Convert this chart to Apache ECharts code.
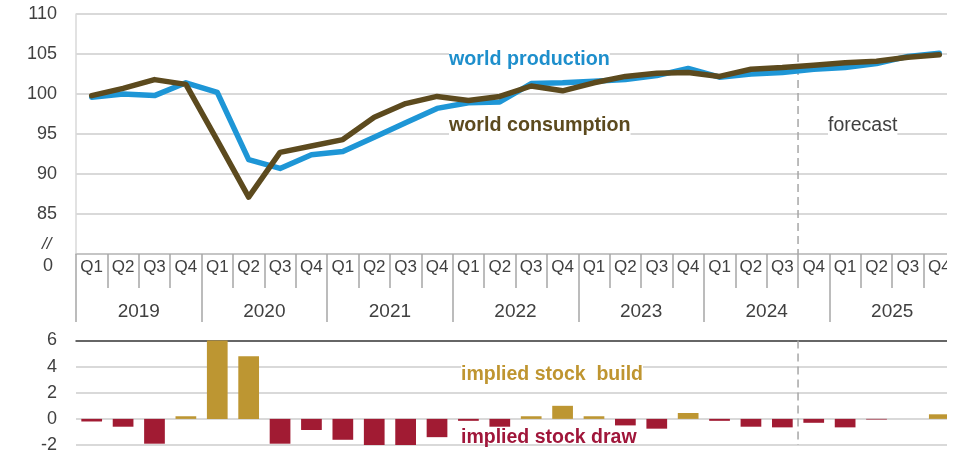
<!DOCTYPE html>
<html><head><meta charset="utf-8">
<script src="https://cdn.jsdelivr.net/npm/echarts@6/dist/echarts.min.js"></script>
<style>html,body{margin:0;padding:0;background:#fff}#c{width:966px;height:454px}</style>
</head><body><div id="c"></div>
<script>
const quarters = ['Q1','Q2','Q3','Q4','Q1','Q2','Q3','Q4','Q1','Q2','Q3','Q4','Q1','Q2','Q3','Q4','Q1','Q2','Q3','Q4','Q1','Q2','Q3','Q4','Q1','Q2','Q3','Q4'];
const years = ['2019','2020','2021','2022','2023','2024','2025'];
const production = [99.6,100.0,99.8,101.4,100.2,91.8,90.7,92.4,92.8,94.6,96.4,98.2,98.9,99.0,101.3,101.4,101.6,101.8,102.3,103.2,102.1,102.5,102.7,103.1,103.3,103.8,104.7,105.1];
const consumption = [99.8,100.7,101.8,101.2,94.2,87.1,92.7,93.5,94.3,97.1,98.8,99.7,99.2,99.7,101.0,100.4,101.4,102.2,102.6,102.7,102.2,103.1,103.3,103.6,103.9,104.1,104.6,104.9];
const stockChange = [-0.2,-0.6,-1.9,0.2,6.0,4.8,-1.9,-0.85,-1.6,-2.1,-2.0,-1.4,-0.15,-0.6,0.2,1.0,0.2,-0.5,-0.75,0.45,-0.15,-0.6,-0.65,-0.3,-0.65,-0.05,0,0.35];
const forecastStart = 23;
const topRange = [80, 110];
const bottomRange = [-2, 6];

const FONT = "'Liberation Sans', Arial, sans-serif";
const TXT = '#404040';
const GRID = '#D9D9D9';
const TICK = '#A6A6A6';

const chart = echarts.init(document.getElementById('c'), null, {renderer: 'canvas'});
chart.setOption({
  animation: false,
  backgroundColor: '#fff',
  textStyle: {fontFamily: FONT},
  grid: [
    {left: 76, top: 14, width: 879, height: 240},
    {left: 76, top: 340.5, width: 879, height: 105}
  ],
  xAxis: [
    {gridIndex: 0, type: 'category', data: quarters, position: 'bottom',
     axisLine: {show: true, onZero: false, lineStyle: {color: '#BFBFBF', width: 1.5}},
     axisTick: {show: true, interval: 0, length: 34, lineStyle: {color: TICK, width: 1.5}},
     axisLabel: {interval: 0, margin: 5, fontSize: 17, color: TXT, fontFamily: FONT}},
    {gridIndex: 0, type: 'category', data: years, position: 'bottom',
     axisLine: {show: false, onZero: false},
     axisTick: {show: true, interval: 0, length: 68, lineStyle: {color: TICK, width: 1.5}},
     axisLabel: {interval: 0, margin: 48, fontSize: 19, color: TXT, fontFamily: FONT}},
    {gridIndex: 0, type: 'value', min: 0, max: quarters.length, show: false},
    {gridIndex: 1, type: 'value', min: 0, max: quarters.length, show: false},
    {gridIndex: 1, type: 'category', data: quarters,
     axisLine: {show: true, onZero: true, lineStyle: {color: '#404040', width: 1.5}},
     axisTick: {show: false}, axisLabel: {show: false}}
  ],
  yAxis: [
    {gridIndex: 0, type: 'value', min: topRange[0], max: topRange[1], interval: 5,
     axisLine: {show: true, lineStyle: {color: GRID, width: 1.5}},
     axisTick: {show: false},
     axisLabel: {margin: 19, fontSize: 18, color: TXT, fontFamily: FONT,
       formatter: v => v === topRange[0] ? '' : String(v)},
     splitLine: {show: true, lineStyle: {color: GRID, width: 2}}},
    {gridIndex: 1, type: 'value', min: bottomRange[0], max: bottomRange[1], interval: 2,
     axisLine: {show: false}, axisTick: {show: false},
     axisLabel: {margin: 19, fontSize: 18, color: TXT, fontFamily: FONT},
     splitLine: {show: true, lineStyle: {color: GRID, width: 2}}}
  ],
  series: [
    {type: 'line', xAxisIndex: 2, yAxisIndex: 0, data: [[forecastStart, 105], [forecastStart, topRange[0]]],
     symbol: 'none', silent: true, lineStyle: {color: TICK, width: 1.5, type: [8, 5]}, z: 1},
    {type: 'line', xAxisIndex: 3, yAxisIndex: 1, data: [[forecastStart, bottomRange[1]], [forecastStart, bottomRange[0]]],
     symbol: 'none', silent: true, lineStyle: {color: TICK, width: 1.5, type: [8, 5]}, z: 1},
    {name: 'world production', type: 'line', xAxisIndex: 0, yAxisIndex: 0, data: production,
     symbol: 'none', lineStyle: {color: '#1E96D6', width: 5.5, cap: 'round', join: 'round'}, z: 3},
    {name: 'world consumption', type: 'line', xAxisIndex: 0, yAxisIndex: 0, data: consumption,
     symbol: 'none', lineStyle: {color: '#5C4A1E', width: 5.5, cap: 'round', join: 'round'}, z: 4},
    {name: 'stock change', type: 'bar', xAxisIndex: 4, yAxisIndex: 1, data: stockChange,
     barWidth: '66%',
     itemStyle: {color: p => p.value >= 0 ? '#BD9632' : '#A11B33'}, z: 3}
  ],
  graphic: [
    {type: 'text', left: 449, top: 50, z: 50, style: {text: 'world production', fill: '#1E8FCC', font: 'bold 19.7px ' + FONT, backgroundColor: '#fff'}},
    {type: 'text', left: 449, top: 116, z: 50, style: {text: 'world consumption', fill: '#5C4A1E', font: 'bold 19.7px ' + FONT, backgroundColor: '#fff'}},
    {type: 'text', left: 828, top: 116, z: 50, style: {text: 'forecast', fill: TXT, font: '19.5px ' + FONT, backgroundColor: '#fff'}},
    {type: 'text', left: 461, top: 365, z: 50, style: {text: 'implied stock  build', fill: '#BF9530', font: 'bold 19.5px ' + FONT, backgroundColor: '#fff'}},
    {type: 'text', left: 461, top: 428, z: 50, style: {text: 'implied stock draw', fill: '#A0163A', font: 'bold 19.5px ' + FONT}},
    {type: 'text', left: 42, top: 236, style: {text: '//', fill: TXT, font: 'italic 17px ' + FONT}},
    {type: 'text', left: 43, top: 257, style: {text: '0', fill: TXT, font: '18px ' + FONT}},
    {type: 'rect', left: 947, top: 0, z: 100, shape: {width: 19, height: 454}, style: {fill: '#fff'}}
  ]
});
</script></body></html>
